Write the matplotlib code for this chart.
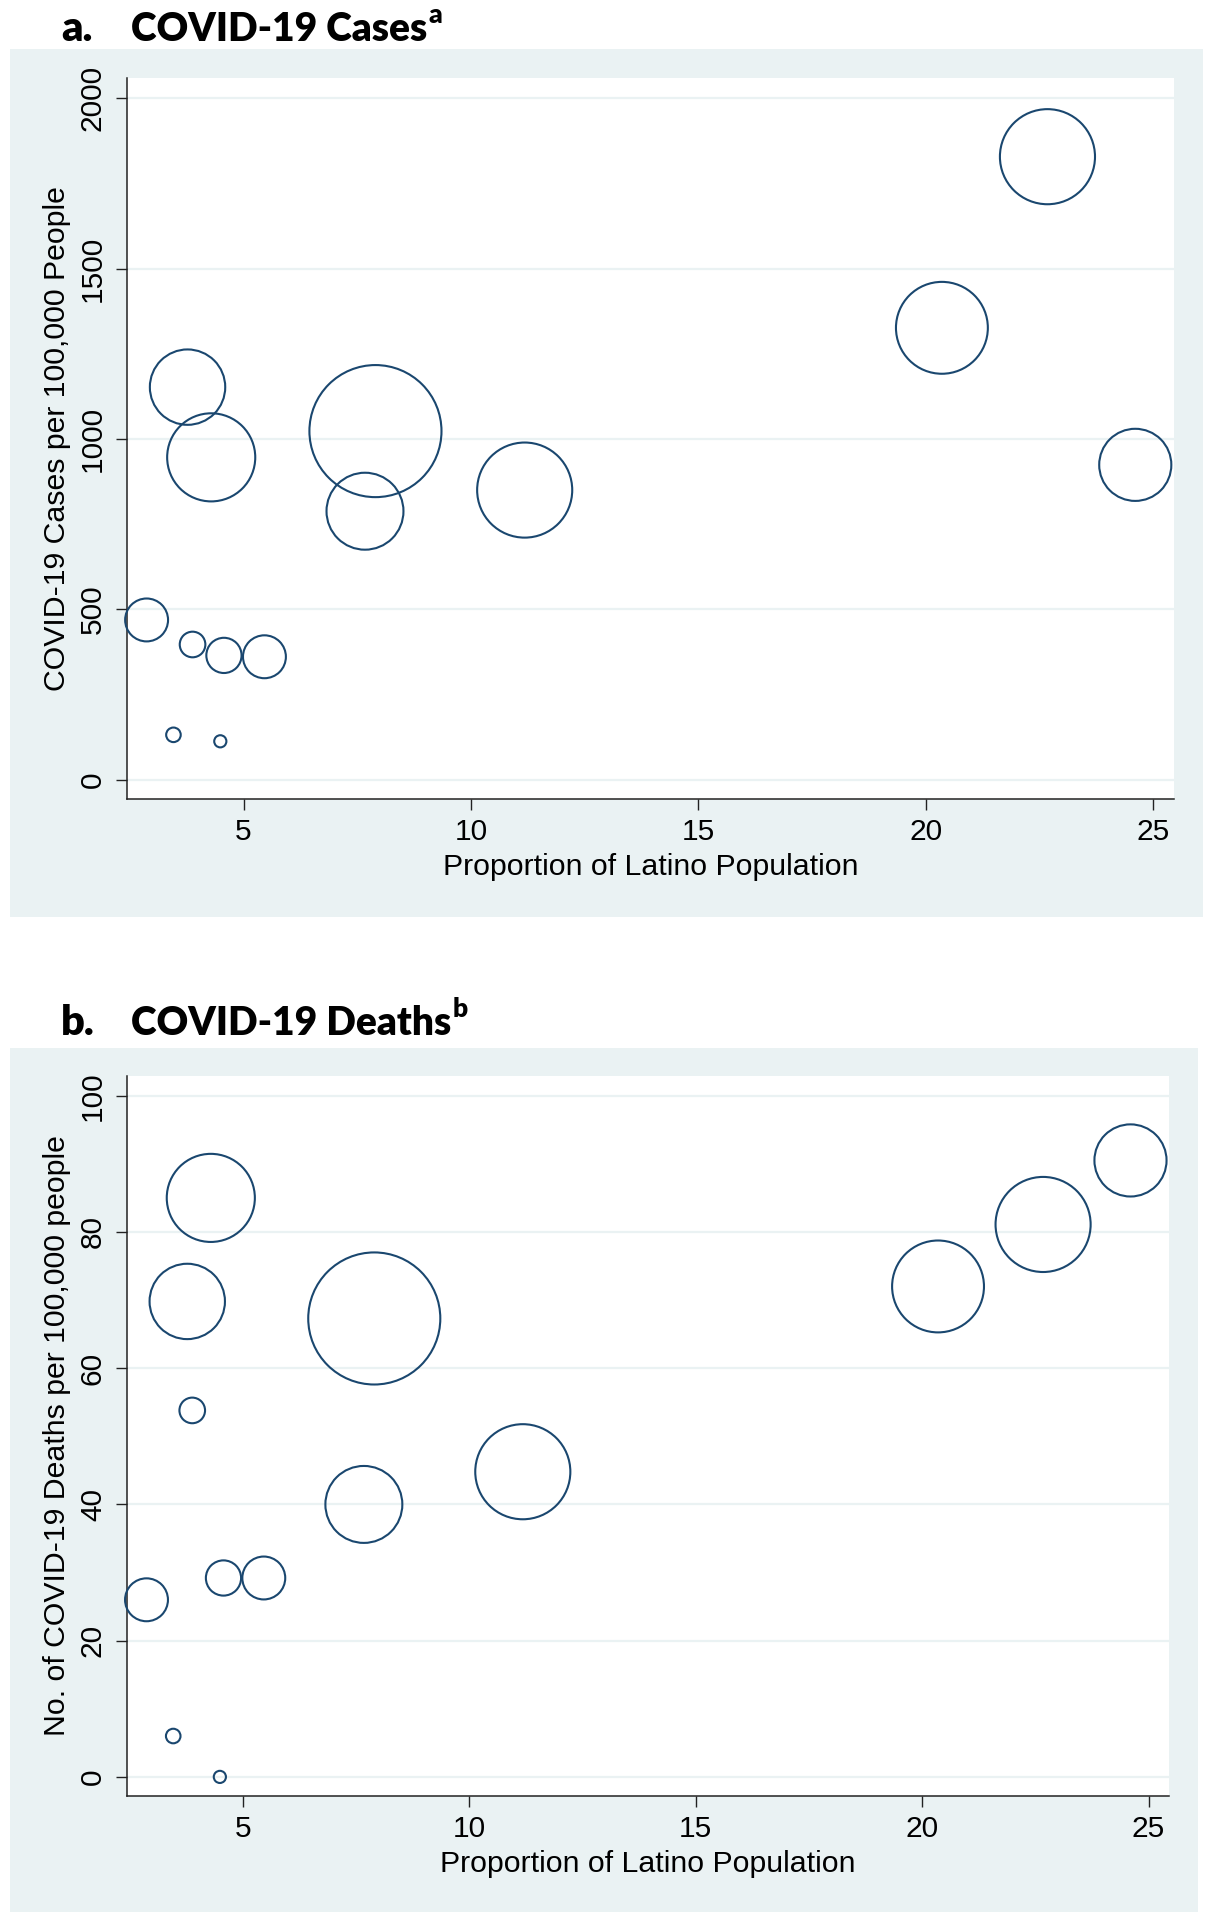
import numpy as np
import matplotlib.pyplot as plt
from matplotlib.patches import Rectangle

# county level values
latino_pct = [2.87, 3.46, 3.77, 3.88, 4.29, 4.49, 4.57, 5.46, 7.67, 7.90, 11.18, 20.35, 22.67, 24.60]
cases_per_100k = [469, 132, 1152, 397, 946, 113, 365, 361, 788, 1023, 850, 1326, 1828, 924]
deaths_per_100k = [26.0, 6.0, 69.8, 53.8, 85.0, 0.0, 29.2, 29.2, 40.0, 67.3, 44.8, 72.0, 81.1, 90.5]
# bubble weight (relative population)
pop_weight = [4.6, 0.53, 14.2, 1.64, 19.4, 0.37, 3.1, 4.6, 14.8, 43.6, 22.6, 21.1, 22.6, 13.0]

x_ticks = [5, 10, 15, 20, 25]
cases_ticks = [0, 500, 1000, 1500, 2000]
deaths_ticks = [0, 20, 40, 60, 80, 100]

navy = '#1a476f'
bg = '#eaf2f3'
axis_font = ['Liberation Sans', 'DejaVu Sans']
title_font = ['Lato', 'DejaVu Sans']

fig = plt.figure(figsize=(12.11, 19.2), dpi=100)

# grey graph regions
fig.patches.append(Rectangle((0.0083, 0.5224), 0.9851, 0.4521, transform=fig.transFigure,
                             facecolor=bg, edgecolor='none', zorder=-10))
fig.patches.append(Rectangle((0.0083, 0.0042), 0.9810, 0.4500, transform=fig.transFigure,
                             facecolor=bg, edgecolor='none', zorder=-10))

ax1 = fig.add_axes([0.1049, 0.5839, 0.8645, 0.3755])
ax2 = fig.add_axes([0.1049, 0.0646, 0.8604, 0.3750])

sizes = np.array(pop_weight) * 207.4


def style(ax, yvals, yticks, ylim, ylabel):
    ax.set_facecolor('white')
    ax.scatter(latino_pct, yvals, s=sizes, facecolors='none', edgecolors=navy,
               linewidths=1.5, zorder=3, clip_on=False)
    ax.set_xlim(2.44, 25.45)
    ax.set_ylim(*ylim)
    ax.set_xticks(x_ticks)
    ax.set_yticks(yticks)
    ax.yaxis.grid(True, color=bg, linewidth=1.6, zorder=1)
    ax.set_axisbelow(True)
    for s in ['top', 'right']:
        ax.spines[s].set_visible(False)
    for s in ['left', 'bottom']:
        ax.spines[s].set_color('#222222')
        ax.spines[s].set_linewidth(1.1)
    ax.tick_params(axis='both', length=8, width=1.0, color='#222222', labelsize=21.5)
    ax.tick_params(axis='x', pad=6)
    ax.tick_params(axis='y', pad=6.5)
    for lab in ax.get_yticklabels():
        lab.set_rotation(90)
        lab.set_va('center')
        lab.set_family(axis_font)
    for lab in ax.get_xticklabels():
        lab.set_family(axis_font)
    ax.set_xlabel('Proportion of Latino Population', fontsize=21.8, family=axis_font, labelpad=5)
    ax.set_ylabel(ylabel, fontsize=21.8, family=axis_font, labelpad=5.5)


style(ax1, cases_per_100k, cases_ticks, (-56, 2059), 'COVID-19 Cases per 100,000 People')
style(ax2, deaths_per_100k, deaths_ticks, (-2.8, 102.9), 'No. of COVID-19 Deaths per 100,000 people')

renderer = fig.canvas.get_renderer()


def panel_title(letter, text, sup, y):
    fig.text(61 / 1211, y, letter, fontsize=30, fontweight='heavy', family=title_font, va='baseline')
    t = fig.text(131 / 1211, y, text, fontsize=28, fontweight='heavy', family=title_font, va='baseline')
    bb = t.get_window_extent(renderer=renderer).transformed(fig.transFigure.inverted())
    fig.text(bb.x1 + 0.001, y + 0.0095, sup, fontsize=19, fontweight='heavy', family=title_font,
             va='baseline')


panel_title('a.', 'COVID-19 Cases', 'a', 1 - 41 / 1920)
panel_title('b.', 'COVID-19 Deaths', 'b', 1 - 1035 / 1920)

fig.savefig('out.png', dpi=100)
